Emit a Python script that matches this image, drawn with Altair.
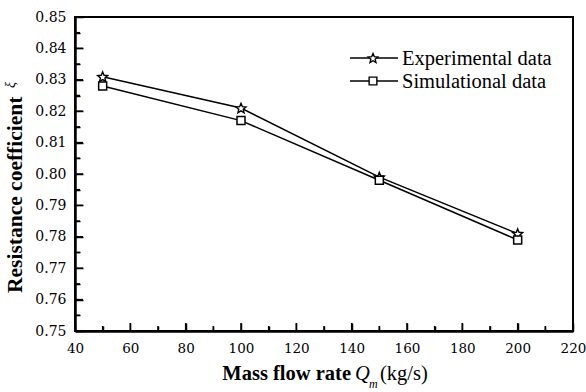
import math
import altair as alt
import pandas as pd

# ---------------- data ----------------
flow_rate = [50, 100, 150, 200]
experimental = [0.831, 0.821, 0.799, 0.781]
simulational = [0.828, 0.817, 0.798, 0.779]
series_names = ["Experimental data", "Simulational data"]

x_major = [40, 60, 80, 100, 120, 140, 160, 180, 200, 220]
x_minor = [50, 70, 90, 110, 130, 150, 170, 190, 210]
y_major = [0.75, 0.76, 0.77, 0.78, 0.79, 0.80, 0.81, 0.82, 0.83, 0.84, 0.85]
y_minor = [0.755, 0.765, 0.775, 0.785, 0.795, 0.805, 0.815, 0.825, 0.835, 0.845]

rows = []
for f, v in zip(flow_rate, experimental):
    rows.append({"kind": "data", "series": series_names[0], "flow": f, "xi": v})
for f, v in zip(flow_rate, simulational):
    rows.append({"kind": "data", "series": series_names[1], "flow": f, "xi": v})
for f in x_major:
    rows.append({"kind": "xmaj", "flow": f})
for f in x_minor:
    rows.append({"kind": "xmin", "flow": f})
for v in y_major:
    rows.append({"kind": "ymaj", "xi": v})
for v in y_minor:
    rows.append({"kind": "ymin", "xi": v})
for s in series_names:
    rows.append({"kind": "legend", "series": s})
table = pd.DataFrame(rows)

# ---------------- style ----------------
W, H = 498, 314
FONT = "Liberation Serif"
TICKFONT = "DejaVu Serif"
TITLE_SIZE = 20.5

pts = []
for k in range(10):
    ang = math.radians(-90 + 36 * k)
    r = 1.0 if k % 2 == 0 else 0.45
    pts.append(f"{r*math.cos(ang):.3f},{r*math.sin(ang)+0.1:.3f}")
STAR = "M" + "L".join(pts) + "Z"

xs = alt.Scale(domain=[40, 220], nice=False, zero=False)
ys = alt.Scale(domain=[0.75, 0.85], nice=False, zero=False)

axis_common = dict(title=None, ticks=False, tickSize=0, grid=False,
                   domainColor="black", domainWidth=2.5, labelFlush=False,
                   labelFont=TICKFONT, labelColor="black")
AX = alt.Axis(values=x_major, format="d", labelPadding=10, orient="bottom",
              labelFontSize=13.5, **axis_common)
AY = alt.Axis(values=y_major, format=".2f", labelPadding=9, orient="left",
              labelFontSize=14, **axis_common)

tick_common = dict(title=None, labels=False, domain=False, grid=False, ticks=True,
                   tickColor="black", tickWidth=1.5, zindex=1)
AXT = alt.Axis(values=x_major + x_minor, orient="top", offset=-H,
               tickSize={"condition": {"test": "datum.value % 20 == 0", "value": 8}, "value": 5},
               **tick_common)
AYR = alt.Axis(values=y_major + y_minor, orient="right", offset=-W,
               tickSize={"condition": {"test": "round(datum.value * 1000) % 10 == 0", "value": 8},
                         "value": 5},
               **tick_common)

base = alt.Chart(table)


def sel(kind, series=None):
    c = base.transform_filter(alt.datum.kind == kind)
    if series is not None:
        c = c.transform_filter(alt.datum.series == series)
    return c


lines = sel("data").mark_line(color="black", strokeWidth=1.5).encode(
    x=alt.X("flow:Q", scale=xs, axis=AX),
    y=alt.Y("xi:Q", scale=ys, axis=AY),
    detail="series:N")

stars = sel("data", series_names[0]).mark_point(
    shape=STAR, size=110, filled=True, fill="white", stroke="black",
    strokeWidth=1.4, opacity=1
).encode(x=alt.X("flow:Q", scale=xs, axis=AXT),
         y=alt.Y("xi:Q", scale=ys, axis=AYR))

squares = sel("data", series_names[1]).mark_point(
    shape="square", size=64, filled=True, fill="white", stroke="black",
    strokeWidth=1.5, opacity=1
).encode(x=alt.X("flow:Q", scale=xs, axis=None),
         y=alt.Y("xi:Q", scale=ys, axis=None))


# inward tick marks drawn as short rules as well
def xticks(kind, length):
    return sel(kind).mark_rule(color="black", strokeWidth=1.5).encode(
        x=alt.X("flow:Q", scale=xs, axis=None), y=alt.value(H), y2=alt.value(H - length))


def yticks(kind, length):
    return sel(kind).mark_rule(color="black", strokeWidth=1.5).encode(
        y=alt.Y("xi:Q", scale=ys, axis=None), x=alt.value(0), x2=alt.value(length))


def legend_entry(name, ypos, shape, size):
    b = sel("legend", name)
    rule = b.mark_rule(color="black", strokeWidth=1.5).encode(
        x=alt.value(275), x2=alt.value(323), y=alt.value(ypos))
    pt = b.mark_point(shape=shape, size=size, filled=True, fill="white",
                      stroke="black", strokeWidth=1.4, opacity=1).encode(
        x=alt.value(298), y=alt.value(ypos))
    txt = b.mark_text(align="left", baseline="middle", font=FONT,
                      fontSize=TITLE_SIZE, color="black", dy=1).encode(
        x=alt.value(327), y=alt.value(ypos), text="series:N")
    return [rule, pt, txt]


def text_piece(s, x, y, size, weight="normal", style="normal", align="left", angle=0):
    kw = dict(align=align, baseline="alphabetic", font=FONT, fontSize=size,
              fontWeight=weight, fontStyle=style, color="black", text=s)
    if angle:
        kw["angle"] = angle
    return sel("legend", series_names[0]).mark_text(**kw).encode(
        x=alt.value(x), y=alt.value(y))


titles = [
    text_piece("Mass flow rate", 276, 363, TITLE_SIZE, weight="bold", align="right"),
    text_piece("Q", 280, 363, TITLE_SIZE, style="italic"),
    text_piece("m", 294, 371, 12, style="italic"),
    text_piece("(kg/s)", 305, 363, TITLE_SIZE),
    text_piece("Resistance coefficient", -53, 276, 21.5, weight="bold", angle=270),
    text_piece("ξ", -60, 71, 14, style="italic", angle=270),
]

layers = [lines, stars, squares,
          xticks("xmaj", 8), xticks("xmin", 5),
          yticks("ymaj", 8), yticks("ymin", 5)]
layers += legend_entry(series_names[0], 41, STAR, 100)
layers += legend_entry(series_names[1], 64, "square", 60)
layers += titles

chart = alt.layer(*layers).resolve_axis(
    x="independent", y="independent"
).properties(
    width=W, height=H,
    padding={"left": 75, "top": 17, "right": 13, "bottom": 61},
    autosize=alt.AutoSizeParams(type="none"),
    background="white",
).configure_view(
    stroke="black", strokeWidth=2
)

chart.save("out.html", embed_options={"renderer": "svg", "actions": False})
